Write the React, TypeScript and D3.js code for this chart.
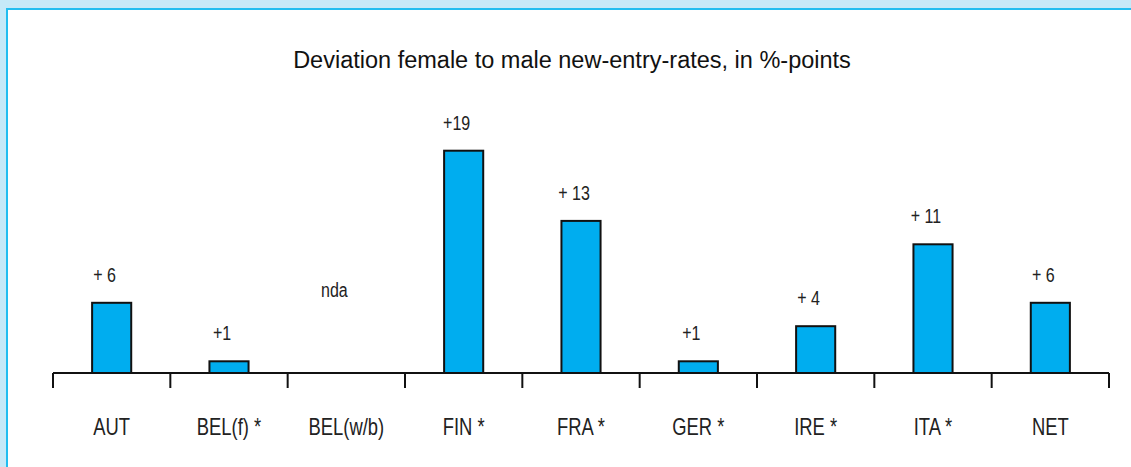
import React from "react";
import * as d3 from "d3";

const categories = ["AUT", "BEL(f) *", "BEL(w/b)", "FIN *", "FRA *", "GER *", "IRE *", "ITA *", "NET"];
const values: (number | null)[] = [6, 1, null, 19, 13, 1, 4, 11, 6];
const valueLabels = ["+ 6", "+1", "nda", "+19", "+ 13", "+1", "+ 4", "+ 11", "+ 6"];
const title = "Deviation female to male new-entry-rates, in %-points";

const W = 1131;
const H = 467;
const sans = "'Liberation Sans', Arial, sans-serif";

function Narrow({ x, y, size, children }: { x: number; y: number; size: number; children: React.ReactNode }) {
  return (
    <text
      transform={`translate(${x},${y}) scale(0.8,1)`}
      textAnchor="middle"
      fontFamily={sans}
      fontSize={size}
      fill="#222"
    >
      {children}
    </text>
  );
}

export default function App() {
  const x = d3.scaleBand<string>().domain(categories).range([53, 1109]).paddingInner(2 / 3).paddingOuter(1 / 3);
  const y = d3.scaleLinear().domain([0, 20]).range([373, 139]);
  const step = x.step();
  const x0 = 53;
  const base = y(0);
  const ticks = d3.range(categories.length + 1).map((i) => x0 + i * step);

  return (
    <div style={{ position: "fixed", left: 0, top: 0 }}>
      <svg width={W} height={H} style={{ display: "block" }}>
        <rect x={0} y={0} width={W} height={H} fill="#c6e9f8" />
        <rect x={7} y={9} width={W} height={H} fill="#ffffff" stroke="#22bdf0" strokeWidth={2} />
        <text x={572} y={68} textAnchor="middle" fontFamily={sans} fontSize={23.5} fill="#111">
          {title}
        </text>
        {categories.map((c, i) => {
          const v = values[i];
          const cx = (x(c) as number) + x.bandwidth() / 2;
          return (
            <g key={c}>
              {v !== null && (
                <rect
                  x={x(c)}
                  y={y(v)}
                  width={x.bandwidth()}
                  height={base - y(v)}
                  fill="#00adef"
                  stroke="#111"
                  strokeWidth={2}
                />
              )}
              <Narrow x={v !== null ? cx - 7 : cx - 12} y={v !== null ? y(v) - 21 : 297} size={20}>
                {valueLabels[i]}
              </Narrow>
              <Narrow x={cx} y={435} size={23}>
                {c}
              </Narrow>
            </g>
          );
        })}
        <line x1={x0} x2={x0 + categories.length * step} y1={base} y2={base} stroke="#111" strokeWidth={2} />
        {ticks.map((t, i) => (
          <line key={i} x1={t} x2={t} y1={base} y2={388} stroke="#111" strokeWidth={2} />
        ))}
      </svg>
    </div>
  );
}
